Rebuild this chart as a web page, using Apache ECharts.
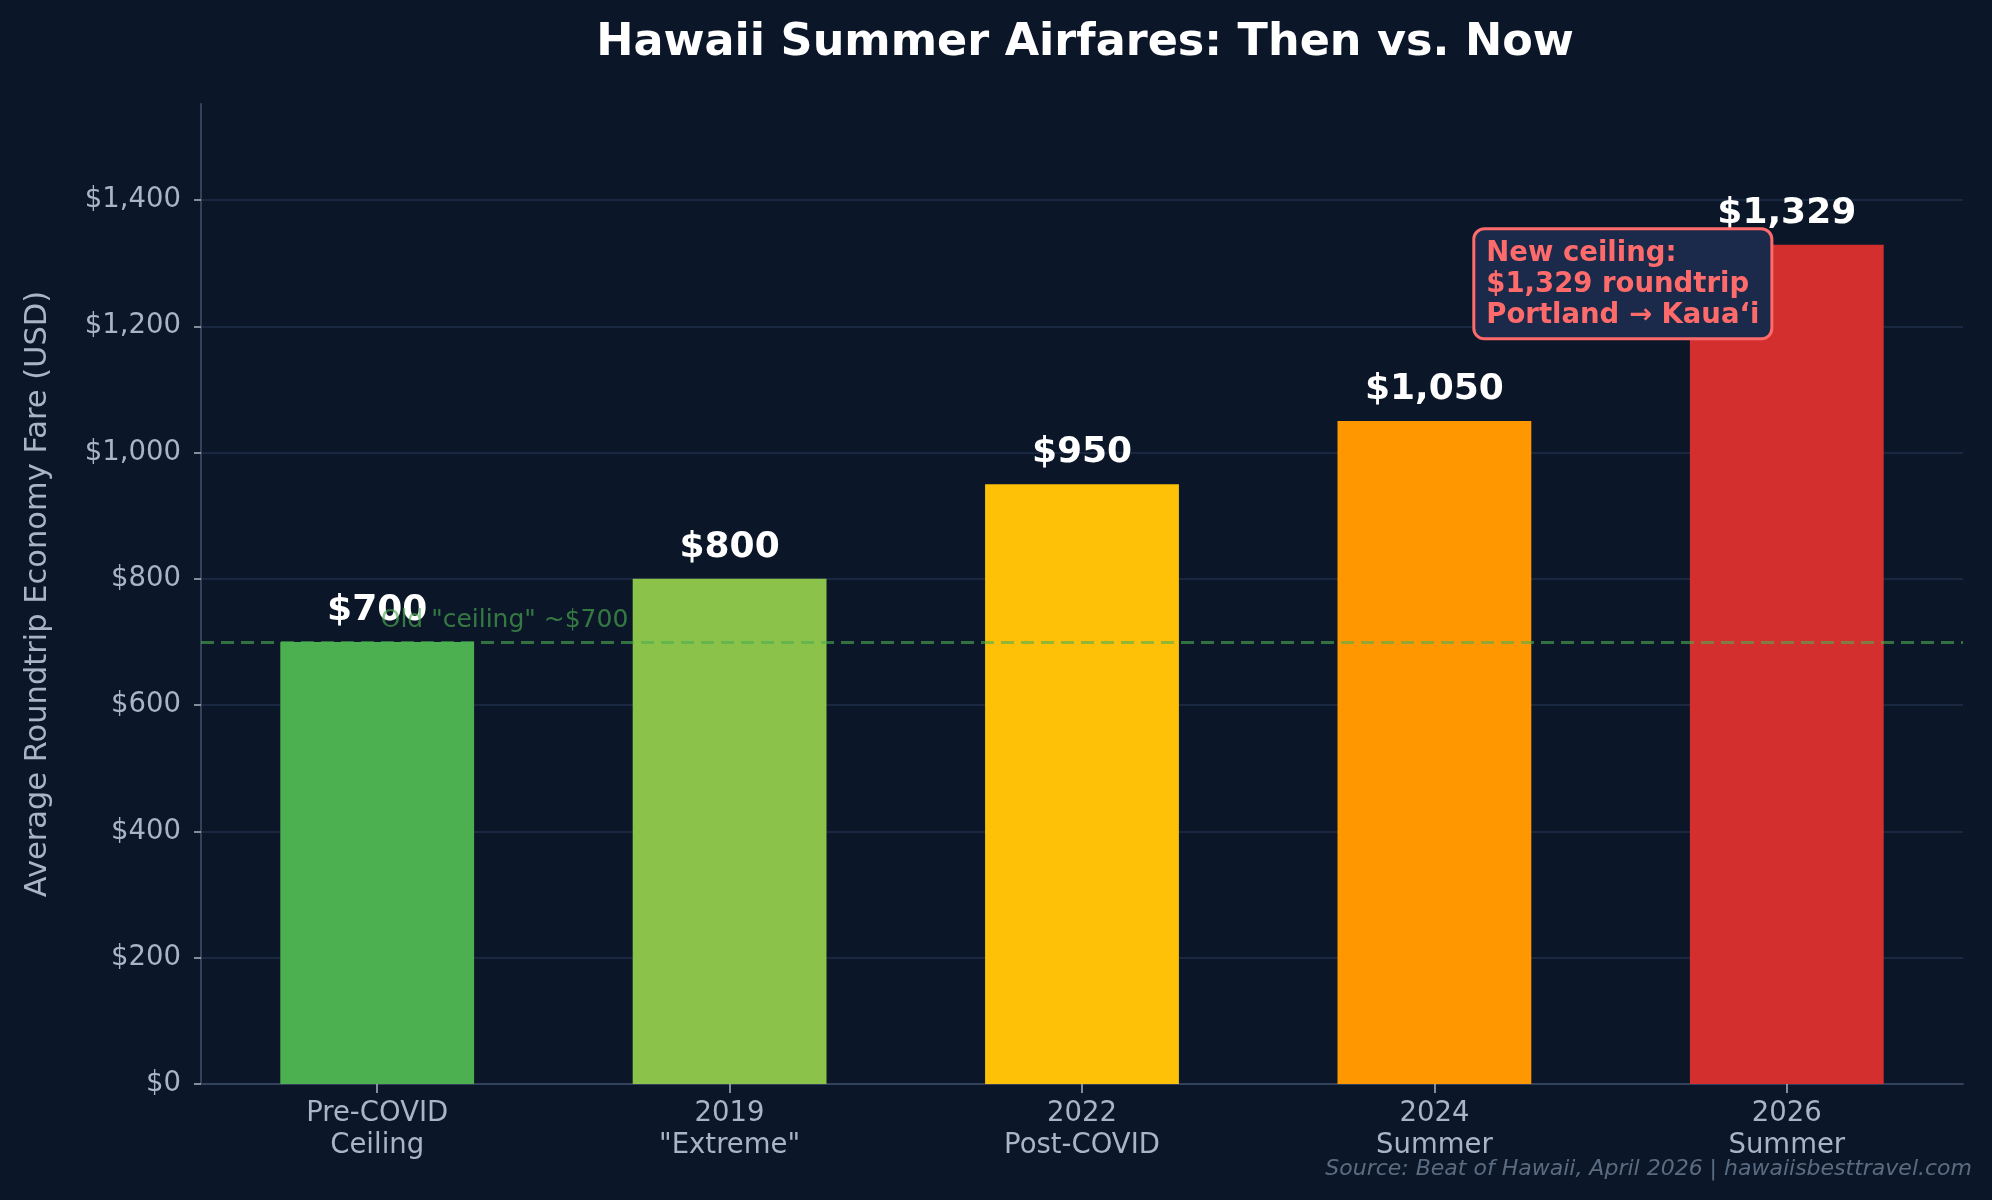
<!DOCTYPE html>
<html lang="en">
<head>
    <meta charset="UTF-8">
    <title>Hawaii Summer Airfares: Then vs. Now</title>
    <script src="https://cdn.jsdelivr.net/npm/echarts@6/dist/echarts.min.js"></script>
    <style>
        html, body { margin: 0; padding: 0; background: #0b1628; }
        #main { width: 1992px; height: 1200px; }
    </style>
</head>
<body>
<div id="main"></div>
<script type="text/javascript">
    // 数据
    var categories = ['Pre-COVID\nCeiling', '2019\n"Extreme"', '2022\nPost-COVID', '2024\nSummer', '2026\nSummer'];
    var fares = [700, 800, 950, 1050, 1329];
    var barColors = ['#4CAF50', '#8BC34A', '#FFC107', '#FF9800', '#D32F2F'];
    var oldCeiling = 700;
    var yTicks = [0, 200, 400, 600, 800, 1000, 1200, 1400];

    var font = 'DejaVu Sans';
    var chart = echarts.init(document.getElementById('main'));

    var option = {
        backgroundColor: '#0b1628',
        animation: false,
        title: {
            text: 'Hawaii Summer Airfares: Then vs. Now',
            left: 1080,
            textAlign: 'center',
            top: 16,
            textStyle: { color: '#ffffff', fontFamily: font, fontWeight: 'bold', fontSize: 44.5 }
        },
        grid: { left: 201, right: 29, top: 104, bottom: 116 },
        xAxis: {
            type: 'category',
            data: categories,
            axisLine: { show: true, lineStyle: { color: '#34415a', width: 2 } },
            axisTick: { show: true, alignWithLabel: true, length: 9, lineStyle: { color: '#a9b4c4', width: 1.5 } },
            axisLabel: { color: '#a9b4c4', fontFamily: font, fontSize: 27.5, lineHeight: 32, margin: 14 },
            splitLine: { show: false }
        },
        yAxis: {
            type: 'value',
            min: 0,
            max: 1552,
            interval: 200,
            name: 'Average Roundtrip Economy Fare (USD)',
            nameLocation: 'middle',
            nameGap: 147,
            nameTextStyle: { color: '#a9b4c4', fontFamily: font, fontSize: 30.5 },
            axisLine: { show: true, lineStyle: { color: '#34415a', width: 2 } },
            axisTick: { show: true, length: 7, lineStyle: { color: '#a9b4c4', width: 1.5 } },
            axisLabel: {
                color: '#a9b4c4', fontFamily: font, fontSize: 27.5, margin: 20,
                showMaxLabel: false,
                formatter: function (v) {
                    if (yTicks.indexOf(v) < 0) return '';
                    return '$' + v.toLocaleString('en-US');
                }
            },
            splitLine: { show: true, showMaxLine: false, lineStyle: { color: '#212e4a', width: 1.5 } }
        },
        series: [
            {
                // 旧上限虚线, 放在柱子下面
                type: 'line',
                data: [],
                z: 1,
                silent: true,
                markLine: {
                    symbol: 'none',
                    silent: true,
                    label: { show: false },
                    lineStyle: { color: 'rgba(76,175,80,0.6)', type: [13, 7], width: 3 },
                    data: [{ yAxis: oldCeiling }]
                }
            },
            {
                type: 'bar',
                z: 2,
                barWidth: '55%',
                data: fares.map(function (v, i) {
                    return { value: v, itemStyle: { color: barColors[i] } };
                }),
                label: {
                    show: true,
                    position: 'top',
                    distance: 13,
                    color: '#ffffff',
                    fontFamily: font,
                    fontWeight: 'bold',
                    fontSize: 36,
                    formatter: function (p) { return '$' + p.value.toLocaleString('en-US'); }
                },
                markPoint: {
                    symbol: 'circle',
                    symbolSize: 1,
                    silent: true,
                    itemStyle: { color: 'rgba(0,0,0,0)' },
                    data: [
                        {
                            coord: [0, oldCeiling],
                            label: {
                                show: true,
                                position: [4, -33],
                                align: 'left',
                                verticalAlign: 'top',
                                color: 'rgba(76,175,80,0.65)',
                                fontFamily: font,
                                fontSize: 25,
                                formatter: 'Old "ceiling" ~$700'
                            }
                        },
                        {
                            coord: [4, fares[4]],
                            label: {
                                show: true,
                                position: [-311, -14],
                                align: 'left',
                                verticalAlign: 'top',
                                color: '#ff6b6b',
                                fontFamily: font,
                                fontWeight: 'bold',
                                fontSize: 27.5,
                                lineHeight: 31,
                                backgroundColor: '#1b2a4a',
                                borderColor: '#ff6b6b',
                                borderWidth: 3,
                                borderRadius: 9,
                                padding: [8, 11, 6, 11],
                                formatter: 'New ceiling:\n$1,329 roundtrip\nPortland \u2192 Kaua\u2018i'
                            }
                        }
                    ]
                }
            }
        ],
        graphic: [
            {
                type: 'text',
                right: 20,
                bottom: 20,
                style: {
                    text: 'Source: Beat of Hawaii, April 2026 | hawaiisbesttravel.com',
                    fill: '#5b6b82',
                    font: 'italic 22px "DejaVu Sans"'
                }
            }
        ]
    };

    chart.setOption(option);
</script>
</body>
</html>
